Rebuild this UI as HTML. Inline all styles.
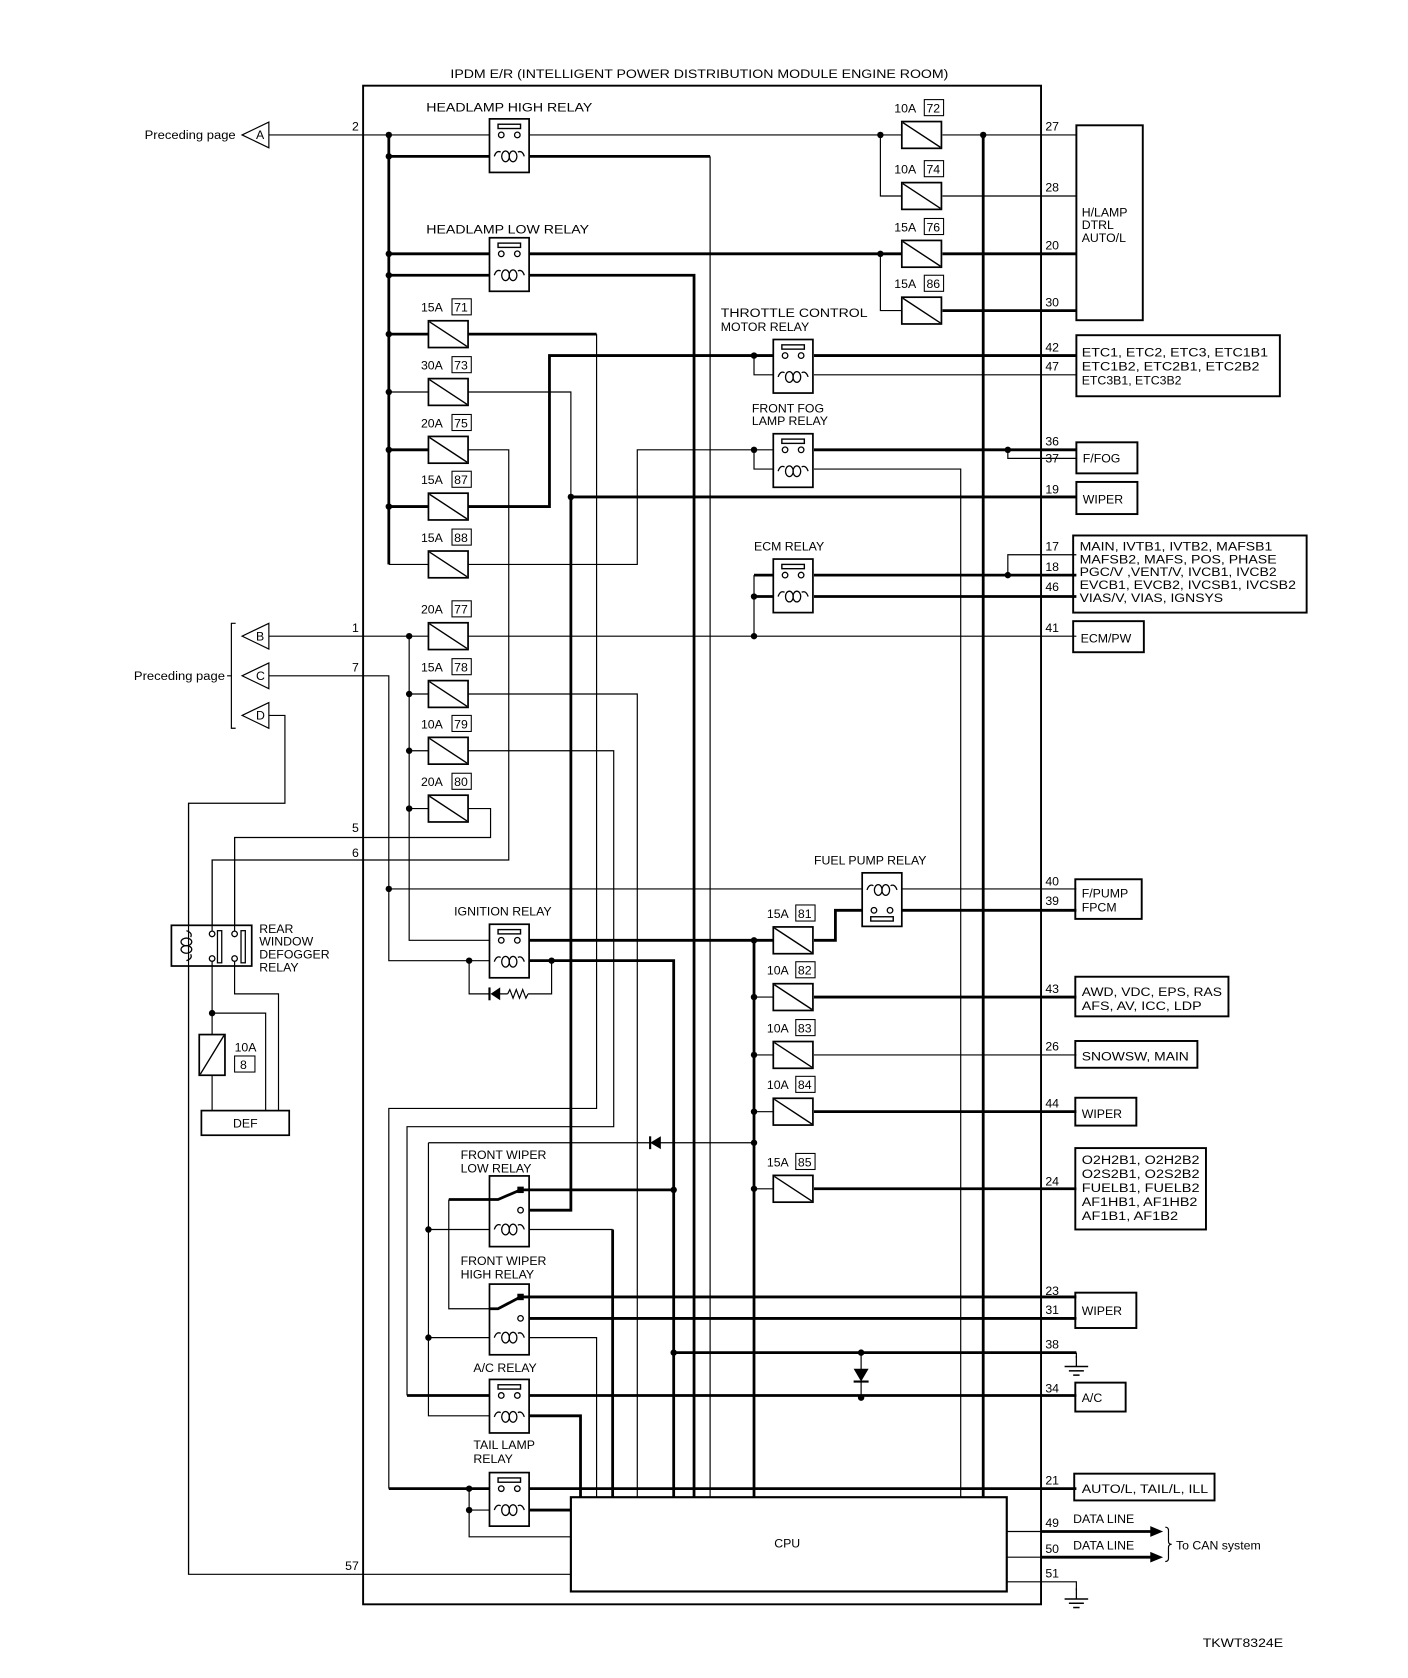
<!DOCTYPE html>
<html><head><meta charset="utf-8"><style>
html,body{margin:0;padding:0;background:#fff;}
svg{display:block;}
text{font-family:"Liberation Sans",Arial,sans-serif;font-size:11.5px;fill:#000;}
.n{fill:none;stroke:#000;stroke-width:1.1;}
.t{fill:none;stroke:#000;stroke-width:2.6;}
.b{fill:none;stroke:#000;stroke-width:1.8;}
.d{fill:#000;}
</style></head><body>
<svg width="1408" height="1678" viewBox="0 0 1314.6 1566.8" xmlns="http://www.w3.org/2000/svg">
<defs>
<g id="fuse"><rect x="0" y="-12.5" width="37" height="25" fill="#fff" stroke="#000" stroke-width="1.6"/><line x1="1" y1="-11.5" x2="36" y2="11.5" stroke="#000" stroke-width="1.3"/></g>
<g id="coil"><path d="M-14,0 q2,-6 6,-4 M14,0 q-2,-6 -6,-4" fill="none" stroke="#000" stroke-width="1.2"/><ellipse cx="-3.5" cy="0" rx="3.6" ry="5" fill="none" stroke="#000" stroke-width="1.2"/><ellipse cx="3.5" cy="0" rx="3.6" ry="5" fill="none" stroke="#000" stroke-width="1.2"/></g>
<g id="rno"><rect x="0" y="0" width="37" height="50" fill="#fff" stroke="#000" stroke-width="1.6"/><rect x="8" y="5" width="21" height="4" fill="none" stroke="#000" stroke-width="1.3"/><circle cx="11" cy="15" r="2.6" fill="#fff" stroke="#000" stroke-width="1.2"/><circle cx="26" cy="15" r="2.6" fill="#fff" stroke="#000" stroke-width="1.2"/><use href="#coil" x="18.5" y="35"/></g>
<g id="gnd"><line x1="0" y1="0" x2="0" y2="10" stroke="#000" stroke-width="1.2"/><line x1="-11" y1="10" x2="11" y2="10" stroke="#000" stroke-width="1.4"/><line x1="-7" y1="14" x2="7" y2="14" stroke="#000" stroke-width="1.4"/><line x1="-3" y1="18" x2="3" y2="18" stroke="#000" stroke-width="1.4"/></g>
</defs>

<!-- module box -->
<rect x="339" y="80" width="633" height="1418" class="b"/>
<text x="653" y="73" text-anchor="middle" textLength="465" lengthAdjust="spacingAndGlyphs">IPDM E/R (INTELLIGENT POWER DISTRIBUTION MODULE ENGINE ROOM)</text>

<!-- connectors -->
<polygon points="226,126 251,114 251,138" fill="#fff" stroke="#000" stroke-width="1.1"/><text x="239" y="130" font-size="10">A</text>
<text x="220" y="130" text-anchor="end" font-size="11" textLength="85" lengthAdjust="spacingAndGlyphs">Preceding page</text>
<polygon points="226,594 251,582 251,606" fill="#fff" stroke="#000" stroke-width="1.1"/><text x="239" y="598" font-size="10">B</text>
<polygon points="226,631 251,619 251,643" fill="#fff" stroke="#000" stroke-width="1.1"/><text x="239" y="635" font-size="10">C</text>
<polygon points="226,668 251,656 251,680" fill="#fff" stroke="#000" stroke-width="1.1"/><text x="239" y="672" font-size="10">D</text>
<path d="M220,582 H216 V680 H220 M216,631 H212" class="n"/>
<text x="210" y="635" text-anchor="end" font-size="11" textLength="85" lengthAdjust="spacingAndGlyphs">Preceding page</text>

<!-- top wires -->
<path class="n" d="M251,126 H457 M494,126 H842 M880,126 H1005 M822,126 V183 H842 M880,183 H1005 M822,237 V290 H842"/>
<path class="t" d="M363,126 V527 M363,146 H457 M494,146 H663 M363,237 H457 M494,237 H842 M880,237 H1005 M363,257 H457 M494,257 H648 V1398 M880,290 H1005 M918,126 V1398"/>
<path class="n" d="M663,146 V1398"/>

<!-- left fuse bank -->
<path class="t" d="M363,312 H400 M437,312 H557 M363,420 H400 M363,473 H400 M437,473 H513 V332 H722 M533,464 H1005 M533,464 V1130 H487"/>
<path class="n" d="M557,312 V1035 H363 V1390 M363,366 H400 M437,366 H533 V464 M437,420 H475 V803 H198 V869 M363,527 H400 M437,527 H595 V420 H722 M704,332 V350 H722 M704,420 V438 H722"/>
<path class="t" d="M760,332 H1005 M760,420 H1005 M760,537 H1005 M760,557 H1005 M704,537 H722 M704,557 H722"/>
<path class="n" d="M760,350 H1005 M941,420 V428 H1005 M760,438 H897 V1398 M941,537 V518 H1005 M704,537 V594"/>

<!-- 1,7, B C D -->
<path class="n" d="M251,594 H400 M437,594 H1005 M382,594 V878 H457 M382,648 H400 M382,701 H400 M382,755 H400 M437,648 H595 V1398 M437,701 H573 V1052 H380 V1303 M437,755 H458 V782 H219 V869 M251,631 H363 V897 H457 M363,830 H805 M842,830 H1005 M251,668 H266 V750 H176 V1470 H533"/>
<path class="t" d="M380,1303 H457"/>

<!-- fuel pump & ignition -->
<path class="t" d="M760,878 H780 V850 H805 M842,850 H1005 M494,878 H722 M494,897 H629 V1398 M704,878 V1398 M760,931 H1005 M760,1038 H1005 M760,1110 H1005"/>
<path class="n" d="M704,931 H722 M704,985 H722 M704,1038 H722 M704,1110 H722 M704,878 H722 M760,985 H1005 M438,897 V928 H458 M466,928 H474 M493,928 H515 V897"/>
<polygon points="458,928 467,922 467,934" class="d"/><line x1="457" y1="922" x2="457" y2="934" stroke="#000" stroke-width="2"/>
<path d="M474,928 l2,-4 l3,8 l3,-8 l3,8 l3,-8 l3,8 l2,-4" class="n"/>

<!-- diode row and wiper relays -->
<path class="n" d="M400,1067 H704 M400,1067 V1322 H457 M400,1148 H457 M400,1249 H457 M494,1148 H572 M494,1249 H557 V1398 M419,1120 V1222 H462"/>
<path class="t" d="M572,1148 V1398"/>
<polygon points="607,1067 617,1061 617,1073" class="d"/><line x1="607" y1="1061" x2="607" y2="1073" stroke="#000" stroke-width="2"/>
<path class="t" d="M486,1111 H629 M419,1120 H465 L486,1111 M462,1222 L486,1211 H1005 M487,1231 H1005 M629,1263 H1005 M494,1303 H1005 M494,1322 H542 V1398 M363,1390 H457 M494,1390 H1005 M494,1410 H533"/>
<path class="n" d="M438,1390 V1435 H533 M438,1410 H457 M804,1263 V1305"/>
<polygon points="797,1278 811,1278 804,1290" class="d"/><line x1="797" y1="1290" x2="811" y2="1290" stroke="#000" stroke-width="2"/>
<path class="n" d="M1005,1263 V1268"/><use href="#gnd" x="1005" y="1266"/>

<!-- relays -->
<use href="#rno" x="457" y="111"/>
<use href="#rno" x="457" y="222"/>
<use href="#rno" x="722" y="317"/>
<use href="#rno" x="722" y="405"/>
<use href="#rno" x="722" y="522"/>
<use href="#rno" x="457" y="863"/>
<use href="#rno" x="457" y="1288"/>
<use href="#rno" x="457" y="1375"/>
<!-- fuel pump relay (inverted) -->
<rect x="805" y="815" width="37" height="50" fill="#fff" stroke="#000" stroke-width="1.6"/>
<use href="#coil" x="823.5" y="831"/>
<circle cx="816" cy="850" r="2.6" fill="#fff" stroke="#000" stroke-width="1.2"/><circle cx="831" cy="850" r="2.6" fill="#fff" stroke="#000" stroke-width="1.2"/>
<rect x="813" y="856" width="21" height="4" fill="none" stroke="#000" stroke-width="1.3"/>
<!-- wiper relays -->
<rect x="457" y="1098" width="37" height="66" fill="#fff" stroke="#000" stroke-width="1.6"/>
<path class="t" d="M457,1120 H465 L486,1111 H494"/><rect x="483" y="1108" width="6" height="6" class="d"/>
<circle cx="486" cy="1130" r="2.6" fill="#fff" stroke="#000" stroke-width="1.2"/>
<use href="#coil" x="475.5" y="1148"/>
<rect x="457" y="1199" width="37" height="66" fill="#fff" stroke="#000" stroke-width="1.6"/>
<path class="t" d="M457,1222 H465 L486,1211 H494"/><rect x="483" y="1208" width="6" height="6" class="d"/>
<circle cx="486" cy="1231" r="2.6" fill="#fff" stroke="#000" stroke-width="1.2"/>
<use href="#coil" x="475.5" y="1249"/>
<path class="t" d="M494,1231 H1005"/>

<!-- fuses -->
<use href="#fuse" x="842" y="126"/><use href="#fuse" x="842" y="183"/><use href="#fuse" x="842" y="237"/><use href="#fuse" x="842" y="290"/>
<use href="#fuse" x="400" y="312"/><use href="#fuse" x="400" y="366"/><use href="#fuse" x="400" y="420"/><use href="#fuse" x="400" y="473"/><use href="#fuse" x="400" y="527"/>
<use href="#fuse" x="400" y="594"/><use href="#fuse" x="400" y="648"/><use href="#fuse" x="400" y="701"/><use href="#fuse" x="400" y="755"/>
<use href="#fuse" x="722" y="878"/><use href="#fuse" x="722" y="931"/><use href="#fuse" x="722" y="985"/><use href="#fuse" x="722" y="1038"/><use href="#fuse" x="722" y="1110"/>

<!-- fuse labels -->
<g font-size="11.5">
<text x="835" y="105">10A</text><rect x="863" y="93" width="18" height="15" fill="none" stroke="#000"/><text x="865" y="105">72</text>
<text x="835" y="162">10A</text><rect x="863" y="150" width="18" height="15" fill="none" stroke="#000"/><text x="865" y="162">74</text>
<text x="835" y="216">15A</text><rect x="863" y="204" width="18" height="15" fill="none" stroke="#000"/><text x="865" y="216">76</text>
<text x="835" y="269">15A</text><rect x="863" y="257" width="18" height="15" fill="none" stroke="#000"/><text x="865" y="269">86</text>
<text x="393" y="291">15A</text><rect x="422" y="279" width="18" height="15" fill="none" stroke="#000"/><text x="424" y="291">71</text>
<text x="393" y="345">30A</text><rect x="422" y="333" width="18" height="15" fill="none" stroke="#000"/><text x="424" y="345">73</text>
<text x="393" y="399">20A</text><rect x="422" y="387" width="18" height="15" fill="none" stroke="#000"/><text x="424" y="399">75</text>
<text x="393" y="452">15A</text><rect x="422" y="440" width="18" height="15" fill="none" stroke="#000"/><text x="424" y="452">87</text>
<text x="393" y="506">15A</text><rect x="422" y="494" width="18" height="15" fill="none" stroke="#000"/><text x="424" y="506">88</text>
<text x="393" y="573">20A</text><rect x="422" y="561" width="18" height="15" fill="none" stroke="#000"/><text x="424" y="573">77</text>
<text x="393" y="627">15A</text><rect x="422" y="615" width="18" height="15" fill="none" stroke="#000"/><text x="424" y="627">78</text>
<text x="393" y="680">10A</text><rect x="422" y="668" width="18" height="15" fill="none" stroke="#000"/><text x="424" y="680">79</text>
<text x="393" y="734">20A</text><rect x="422" y="722" width="18" height="15" fill="none" stroke="#000"/><text x="424" y="734">80</text>
<text x="716" y="857">15A</text><rect x="743" y="845" width="18" height="15" fill="none" stroke="#000"/><text x="745" y="857">81</text>
<text x="716" y="910">10A</text><rect x="743" y="898" width="18" height="15" fill="none" stroke="#000"/><text x="745" y="910">82</text>
<text x="716" y="964">10A</text><rect x="743" y="952" width="18" height="15" fill="none" stroke="#000"/><text x="745" y="964">83</text>
<text x="716" y="1017">10A</text><rect x="743" y="1005" width="18" height="15" fill="none" stroke="#000"/><text x="745" y="1017">84</text>
<text x="716" y="1089">15A</text><rect x="743" y="1077" width="18" height="15" fill="none" stroke="#000"/><text x="745" y="1089">85</text>
</g>

<!-- relay labels -->
<text x="398" y="104" textLength="155" lengthAdjust="spacingAndGlyphs">HEADLAMP HIGH RELAY</text>
<text x="398" y="218" textLength="152" lengthAdjust="spacingAndGlyphs">HEADLAMP LOW RELAY</text>
<text x="673" y="296" textLength="137" lengthAdjust="spacingAndGlyphs">THROTTLE CONTROL</text>
<text x="673" y="309">MOTOR RELAY</text>
<text x="702" y="385">FRONT FOG</text>
<text x="702" y="397">LAMP RELAY</text>
<text x="704" y="514">ECM RELAY</text>
<text x="760" y="807">FUEL PUMP RELAY</text>
<text x="424" y="855">IGNITION RELAY</text>
<text x="430" y="1082">FRONT WIPER</text><text x="430" y="1095">LOW RELAY</text>
<text x="430" y="1181">FRONT WIPER</text><text x="430" y="1194">HIGH RELAY</text>
<text x="442" y="1281">A/C RELAY</text>
<text x="442" y="1353">TAIL LAMP</text><text x="442" y="1366">RELAY</text>

<!-- defogger relay -->
<rect x="160" y="864" width="75" height="38" fill="#fff" stroke="#000" stroke-width="1.6"/>
<path class="n" d="M176,750 V1470"/>
<g transform="translate(174,883) rotate(90)"><use href="#coil"/></g>
<path class="n" d="M198,803 V869 M219,782 V869 M198,898 V966 M198,1004 V1037 M198,946 H248 V1037 M219,898 V928 H260 V1037"/>
<circle cx="198" cy="872" r="2.6" fill="#fff" stroke="#000" stroke-width="1.2"/><circle cx="198" cy="895" r="2.6" fill="#fff" stroke="#000" stroke-width="1.2"/>
<circle cx="219" cy="872" r="2.6" fill="#fff" stroke="#000" stroke-width="1.2"/><circle cx="219" cy="895" r="2.6" fill="#fff" stroke="#000" stroke-width="1.2"/>
<rect x="203" y="869" width="4" height="30" fill="none" stroke="#000" stroke-width="1.2"/>
<rect x="225" y="869" width="4" height="30" fill="none" stroke="#000" stroke-width="1.2"/>
<text x="242" y="871">REAR</text><text x="242" y="883">WINDOW</text><text x="242" y="895">DEFOGGER</text><text x="242" y="907">RELAY</text>
<rect x="186" y="966" width="24" height="38" fill="#fff" stroke="#000" stroke-width="1.6"/><line x1="187" y1="1003" x2="209" y2="967" stroke="#000" stroke-width="1.3"/>
<text x="219" y="982">10A</text><rect x="219" y="986" width="19" height="15" fill="none" stroke="#000"/><text x="224" y="998">8</text>
<rect x="188" y="1037" width="82" height="23" fill="#fff" stroke="#000" stroke-width="1.6"/><text x="229" y="1053" text-anchor="middle">DEF</text>

<!-- CPU -->
<rect x="533" y="1398" width="407" height="88" fill="#fff" stroke="#000" stroke-width="2"/>
<text x="735" y="1445" text-anchor="middle">CPU</text>
<path class="n" d="M940,1430 H972 M940,1454 H972 M940,1477 H1005 V1485"/>
<path class="t" d="M972,1430 H1078 M972,1454 H1078"/>
<polygon points="1086,1430 1074,1425 1074,1435" class="d"/><polygon points="1086,1454 1074,1449 1074,1459" class="d"/>
<use href="#gnd" x="1005" y="1483"/>
<path class="n" d="M1088,1426 q3,0 3,3 v10 q0,3 3,3 q-3,0 -3,3 v10 q0,3 -3,3"/>
<text x="1002" y="1422">DATA LINE</text><text x="1002" y="1447">DATA LINE</text>
<text x="1098" y="1447">To CAN system</text>

<!-- dots -->
<g class="d">
<circle cx="363" cy="126" r="3"/><circle cx="363" cy="146" r="3"/><circle cx="363" cy="237" r="3"/><circle cx="363" cy="257" r="3"/>
<circle cx="363" cy="312" r="3"/><circle cx="363" cy="366" r="3"/><circle cx="363" cy="420" r="3"/><circle cx="363" cy="473" r="3"/>
<circle cx="822" cy="126" r="3"/><circle cx="822" cy="237" r="3"/><circle cx="918" cy="126" r="3"/>
<circle cx="704" cy="332" r="3"/><circle cx="704" cy="420" r="3"/><circle cx="533" cy="464" r="3"/><circle cx="941" cy="420" r="3"/>
<circle cx="941" cy="537" r="3"/><circle cx="704" cy="557" r="3"/><circle cx="704" cy="594" r="3"/>
<circle cx="382" cy="594" r="3"/><circle cx="382" cy="648" r="3"/><circle cx="382" cy="701" r="3"/><circle cx="382" cy="755" r="3"/>
<circle cx="363" cy="830" r="3"/><circle cx="438" cy="897" r="3"/><circle cx="515" cy="897" r="3"/>
<circle cx="704" cy="878" r="3"/><circle cx="704" cy="931" r="3"/><circle cx="704" cy="985" r="3"/><circle cx="704" cy="1038" r="3"/><circle cx="704" cy="1067" r="3"/><circle cx="704" cy="1110" r="3"/>
<circle cx="629" cy="1111" r="3"/><circle cx="629" cy="1263" r="3"/><circle cx="400" cy="1148" r="3"/><circle cx="400" cy="1249" r="3"/>
<circle cx="804" cy="1263" r="3"/><circle cx="804" cy="1305" r="3"/><circle cx="438" cy="1390" r="3"/><circle cx="438" cy="1410" r="3"/>
<circle cx="198" cy="946" r="3"/>
</g>

<!-- pin numbers -->
<g font-size="11.5">
<text x="335" y="122" text-anchor="end">2</text><text x="335" y="590" text-anchor="end">1</text><text x="335" y="627" text-anchor="end">7</text>
<text x="335" y="777" text-anchor="end">5</text><text x="335" y="800" text-anchor="end">6</text><text x="335" y="1466" text-anchor="end">57</text>
<text x="976" y="122">27</text><text x="976" y="179">28</text><text x="976" y="233">20</text><text x="976" y="286">30</text>
<text x="976" y="328">42</text><text x="976" y="346">47</text><text x="976" y="416">36</text><text x="976" y="432">37</text>
<text x="976" y="461">19</text><text x="976" y="514">17</text><text x="976" y="533">18</text><text x="976" y="552">46</text>
<text x="976" y="590">41</text><text x="976" y="827">40</text><text x="976" y="845">39</text><text x="976" y="927">43</text>
<text x="976" y="981">26</text><text x="976" y="1034">44</text><text x="976" y="1107">24</text><text x="976" y="1209">23</text>
<text x="976" y="1227">31</text><text x="976" y="1259">38</text><text x="976" y="1300">34</text><text x="976" y="1386">21</text>
<text x="976" y="1426">49</text><text x="976" y="1450">50</text><text x="976" y="1473">51</text>
</g>

<!-- right boxes -->
<g>
<rect x="1005" y="117" width="62" height="182" class="b"/>
<text x="1010" y="202">H/LAMP</text><text x="1010" y="214">DTRL</text><text x="1010" y="226">AUTO/L</text>
<rect x="1005" y="313" width="190" height="57" class="b"/>
<text x="1010" y="333" textLength="174" lengthAdjust="spacingAndGlyphs">ETC1, ETC2, ETC3, ETC1B1</text>
<text x="1010" y="346" textLength="166" lengthAdjust="spacingAndGlyphs">ETC1B2, ETC2B1, ETC2B2</text>
<text x="1010" y="359">ETC3B1, ETC3B2</text>
<rect x="1005" y="413" width="57" height="29" class="b"/><text x="1011" y="432">F/FOG</text>
<rect x="1005" y="450" width="57" height="30" class="b"/><text x="1011" y="470">WIPER</text>
<rect x="1002" y="500" width="218" height="72" class="b"/>
<text x="1008" y="514" textLength="180" lengthAdjust="spacingAndGlyphs">MAIN, IVTB1, IVTB2, MAFSB1</text>
<text x="1008" y="526" textLength="184" lengthAdjust="spacingAndGlyphs">MAFSB2, MAFS, POS, PHASE</text>
<text x="1008" y="538" textLength="184" lengthAdjust="spacingAndGlyphs">PGC/V ,VENT/V, IVCB1, IVCB2</text>
<text x="1008" y="550" textLength="202" lengthAdjust="spacingAndGlyphs">EVCB1, EVCB2, IVCSB1, IVCSB2</text>
<text x="1008" y="562" textLength="134" lengthAdjust="spacingAndGlyphs">VIAS/V, VIAS, IGNSYS</text>
<rect x="1002" y="580" width="66" height="29" class="b"/><text x="1009" y="600">ECM/PW</text>
<rect x="1004" y="821" width="62" height="37" class="b"/><text x="1010" y="838">F/PUMP</text><text x="1010" y="851">FPCM</text>
<rect x="1004" y="912" width="143" height="37" class="b"/>
<text x="1010" y="930" textLength="131" lengthAdjust="spacingAndGlyphs">AWD, VDC, EPS, RAS</text>
<text x="1010" y="943" textLength="112" lengthAdjust="spacingAndGlyphs">AFS, AV, ICC, LDP</text>
<rect x="1004" y="972" width="114" height="25" class="b"/><text x="1010" y="990" textLength="100" lengthAdjust="spacingAndGlyphs">SNOWSW, MAIN</text>
<rect x="1004" y="1025" width="57" height="26" class="b"/><text x="1010" y="1044">WIPER</text>
<rect x="1004" y="1072" width="122" height="76" class="b"/>
<text x="1010" y="1087" textLength="110" lengthAdjust="spacingAndGlyphs">O2H2B1, O2H2B2</text>
<text x="1010" y="1100" textLength="110" lengthAdjust="spacingAndGlyphs">O2S2B1, O2S2B2</text>
<text x="1010" y="1113" textLength="110" lengthAdjust="spacingAndGlyphs">FUELB1, FUELB2</text>
<text x="1010" y="1126" textLength="108" lengthAdjust="spacingAndGlyphs">AF1HB1, AF1HB2</text>
<text x="1010" y="1139" textLength="90" lengthAdjust="spacingAndGlyphs">AF1B1, AF1B2</text>
<rect x="1004" y="1207" width="57" height="33" class="b"/><text x="1010" y="1228">WIPER</text>
<rect x="1004" y="1291" width="47" height="27" class="b"/><text x="1010" y="1309">A/C</text>
<rect x="1003" y="1376" width="131" height="25" class="b"/><text x="1010" y="1394" textLength="118" lengthAdjust="spacingAndGlyphs">AUTO/L, TAIL/L, ILL</text>
</g>

<text x="1123" y="1538" textLength="75" lengthAdjust="spacingAndGlyphs">TKWT8324E</text>
</svg>
</body></html>
